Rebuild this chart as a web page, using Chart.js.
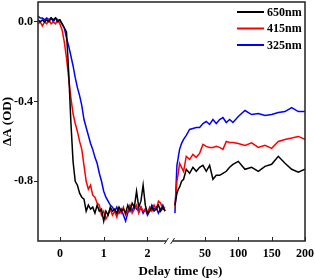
<!DOCTYPE html>
<html>
<head>
<meta charset="utf-8">
<script src="https://cdn.jsdelivr.net/npm/chart.js@4.4.1/dist/chart.umd.min.js"></script>
<style>
  html, body { margin: 0; padding: 0; background: #fff; }
</style>
</head>
<body>
<canvas id="canvas" width="315" height="280"></canvas>
<script>
// series
const seriesNames = ['650nm', '415nm', '325nm'];
const seriesColors = ['#000000', '#ff0000', '#0000ff'];

// early delay times (ps), before the axis break
const timeEarly = [-0.5, -0.45, -0.4, -0.35, -0.3, -0.25, -0.2, -0.15, -0.1, -0.05,
  0, 0.05, 0.1, 0.15, 0.2, 0.25, 0.3, 0.35, 0.4, 0.45,
  0.5, 0.55, 0.6, 0.65, 0.7, 0.75, 0.8, 0.85, 0.9, 0.95,
  1.0, 1.05, 1.1, 1.15, 1.2, 1.25, 1.3, 1.35, 1.4, 1.45,
  1.5, 1.55, 1.6, 1.65, 1.7, 1.75, 1.8, 1.85, 1.9, 1.95,
  2.0, 2.05, 2.1, 2.15, 2.2, 2.25, 2.3, 2.35, 2.4];

const early650 = [0.01, 0.0, 0.01, 0.0, 0.01, 0.0, 0.02, 0.01, 0.02, 0.0,
  0.01, -0.01, -0.03, -0.05, -0.25, -0.5, -0.7, -0.8, -0.82, -0.86,
  -0.88, -0.89, -0.95, -0.92, -0.94, -0.93, -0.96, -0.92, -0.95, -0.94,
  -1.0, -0.95, -0.97, -0.93, -0.95, -0.94, -0.96, -0.93, -0.95, -0.94,
  -0.96, -0.92, -0.95, -0.91, -0.93, -0.85, -0.93, -0.9, -0.82, -0.92,
  -0.96, -0.95, -0.93, -0.95, -0.94, -0.92, -0.95, -0.93, -0.95];

const early415 = [-0.01, 0.0, -0.02, 0.0, -0.01, 0.01, -0.01, 0.0, -0.01, 0.01,
  -0.01, -0.04, -0.1, -0.18, -0.28, -0.38, -0.46, -0.51, -0.55, -0.6,
  -0.64, -0.72, -0.8, -0.84, -0.82, -0.87, -0.88, -0.91, -0.92, -0.97,
  -0.95, -0.99, -0.97, -0.94, -0.97, -0.95, -0.98, -0.94, -0.96, -0.93,
  -0.97, -0.95, -0.92, -0.96, -0.94, -0.92, -0.96, -0.93, -0.95, -0.94,
  -0.96, -0.93, -0.95, -0.92, -0.94, -0.9, -0.91, -0.94, -0.93];

const early325 = [0.03, 0.02, 0.02, 0.01, 0.02, 0.01, 0.02, 0.0, 0.02, 0.01,
  0.01, -0.01, -0.03, -0.08, -0.12, -0.17, -0.22, -0.28, -0.33, -0.37,
  -0.42, -0.49, -0.53, -0.57, -0.61, -0.64, -0.68, -0.71, -0.76, -0.8,
  -0.85, -0.88, -0.9, -0.92, -0.93, -0.95, -0.93, -0.96, -0.94, -0.97,
  -1.0, -0.96, -0.93, -0.95, -0.92, -0.94, -0.95, -0.93, -0.96, -0.94,
  -0.97, -0.95, -0.92, -0.94, -0.93, -0.96, -0.94, -0.92, -0.95];

// late delay times (ps), after the axis break
const timeLate = [5, 8, 10, 12, 15, 18, 22, 27, 32, 37, 42, 47, 52, 57, 62, 67,
  72, 77, 82, 87, 92, 100, 110, 120, 130, 140, 150, 160, 170, 180, 190, 200];

const late650 = [-0.92, -0.86, -0.84, -0.83, -0.8, -0.79, -0.74, -0.76, -0.73, -0.75,
  -0.73, -0.72, -0.75, -0.72, -0.79, -0.77, -0.77, -0.76, -0.75, -0.73,
  -0.715, -0.7, -0.74, -0.73, -0.75, -0.725, -0.715, -0.675, -0.71, -0.74, -0.755, -0.74];

const late415 = [-0.93, -0.8, -0.76, -0.71, -0.73, -0.75, -0.675, -0.69, -0.665, -0.68,
  -0.66, -0.615, -0.625, -0.63, -0.63, -0.625, -0.63, -0.64, -0.6, -0.605,
  -0.605, -0.61, -0.62, -0.607, -0.63, -0.62, -0.635, -0.6, -0.59, -0.583, -0.575, -0.59];

const late325 = [-0.96, -0.72, -0.68, -0.64, -0.61, -0.59, -0.57, -0.54, -0.535, -0.53,
  -0.53, -0.51, -0.5, -0.515, -0.49, -0.51, -0.49, -0.48, -0.505, -0.49,
  -0.505, -0.475, -0.445, -0.465, -0.46, -0.47, -0.465, -0.455, -0.45, -0.43, -0.45, -0.45];

const earlyTicks = [0, 1, 2];
const lateTicks = [50, 100, 150, 200];
const yTicks = [0, -0.4, -0.8];
const yTickLabels = ['0.0', '-0.4', '-0.8'];
const xTitle = 'Delay time (ps)';

// broken axis: left part in ps, right part squeezed after the break
const breakAt = 2.5;
const lateZero = 2.55;
const lateScale = 3.046 / 200;
function lateToAxis(t) { return lateZero + t * lateScale; }

const earlySets = [early650, early415, early325];
const lateSets = [late650, late415, late325];

const datasets = seriesNames.map(function (name, k) {
  let pts = timeEarly.map((t, i) => ({ x: t, y: earlySets[k][i] }));
  pts.push({ x: breakAt + 0.02, y: null });
  pts = pts.concat(timeLate.map((t, i) => ({ x: lateToAxis(t), y: lateSets[k][i] })));
  return {
    label: name,
    data: pts,
    borderColor: seriesColors[k],
    backgroundColor: seriesColors[k],
    borderWidth: 1.5,
    pointRadius: 0,
    tension: 0,
    spanGaps: false
  };
});

const tickMap = {};
earlyTicks.forEach(t => { tickMap[t.toFixed(4)] = String(t); });
lateTicks.forEach(t => { tickMap[lateToAxis(t).toFixed(4)] = String(t); });

const serif = '"Liberation Serif", "Times New Roman", serif';
Chart.defaults.font.family = serif;
Chart.defaults.font.weight = 'bold';
Chart.defaults.font.size = 12;
Chart.defaults.color = '#000';

const framePlugin = {
  id: 'frame',
  afterDraw(chart) {
    const ctx = chart.ctx;
    const a = chart.chartArea;
    const xs = chart.scales.x;
    const gapL = xs.getPixelForValue(breakAt) - 3;
    const gapR = xs.getPixelForValue(lateZero) + 1;
    ctx.save();
    ctx.strokeStyle = '#222';
    ctx.lineWidth = 1.5;
    ctx.beginPath();
    ctx.moveTo(gapL, a.bottom);
    ctx.lineTo(a.left, a.bottom);
    ctx.lineTo(a.left, a.top);
    ctx.lineTo(a.right, a.top);
    ctx.lineTo(a.right, a.bottom);
    ctx.lineTo(gapR, a.bottom);
    ctx.stroke();
    // break marks
    ctx.lineWidth = 1;
    [gapL, gapR].forEach(x => {
      ctx.beginPath();
      ctx.moveTo(x - 2, a.bottom + 3);
      ctx.lineTo(x + 2, a.bottom - 3);
      ctx.stroke();
    });
    // inner x ticks
    xs.ticks.forEach(t => {
      const px = Math.round(xs.getPixelForValue(t.value)) + 0.5;
      ctx.beginPath();
      ctx.moveTo(px, a.bottom);
      ctx.lineTo(px, a.bottom - 4);
      ctx.stroke();
    });
    // x title, sits a bit right of centre as in the original
    ctx.fillStyle = '#000';
    ctx.font = 'bold 13px ' + serif;
    ctx.textAlign = 'center';
    ctx.textBaseline = 'middle';
    ctx.fillText(xTitle, (a.left + a.right) / 2 + 9, a.bottom + 31);
    // legend, top right inside the plot
    ctx.font = 'bold 12px ' + serif;
    ctx.textAlign = 'left';
    chart.data.datasets.forEach((ds, i) => {
      const y = a.top + 10 + i * 16.5;
      ctx.strokeStyle = ds.borderColor;
      ctx.lineWidth = 2;
      ctx.beginPath();
      ctx.moveTo(a.right - 68, y);
      ctx.lineTo(a.right - 41, y);
      ctx.stroke();
      ctx.fillText(ds.label, a.right - 38, y + 0.5);
    });
    ctx.restore();
  }
};

const ctx = document.getElementById('canvas').getContext('2d');
const myChart = new Chart(ctx, {
  type: 'line',
  data: { datasets: datasets },
  options: {
    responsive: false,
    animation: false,
    devicePixelRatio: 1,
    layout: { padding: { top: 2, right: 10, left: 0, bottom: 0 } },
    plugins: {
      legend: { display: false },
      tooltip: { enabled: false }
    },
    scales: {
      x: {
        type: 'linear',
        min: -0.5,
        max: lateToAxis(200),
        afterFit(scale) {
          scale.height = 39;
          scale.paddingLeft = 0;
          scale.paddingRight = 0;
        },
        afterBuildTicks(scale) {
          scale.ticks = earlyTicks.map(v => ({ value: v }))
            .concat(lateTicks.map(v => ({ value: lateToAxis(v) })));
        },
        ticks: {
          autoSkip: false,
          maxRotation: 0,
          padding: 6,
          callback: function (v) { return tickMap[Number(v).toFixed(4)]; }
        },
        grid: { display: false, drawTicks: false },
        border: { display: false },
        title: { display: false }
      },
      y: {
        min: -1.1,
        max: 0.1,
        afterFit(scale) {
          scale.width = 38;
          scale.paddingTop = 0;
          scale.paddingBottom = 0;
        },
        afterBuildTicks(scale) {
          scale.ticks = yTicks.map(v => ({ value: v }));
        },
        ticks: {
          padding: 1,
          callback: function (v) {
            const i = yTicks.findIndex(t => Math.abs(t - v) < 1e-6);
            return i >= 0 ? yTickLabels[i] : '';
          }
        },
        grid: { drawOnChartArea: false, tickLength: 4, color: '#222', lineWidth: 1 },
        border: { display: false },
        title: {
          display: true,
          text: 'ΔA (OD)',
          font: { size: 13, weight: 'bold' },
          padding: { top: 0, bottom: 0 }
        }
      }
    }
  },
  plugins: [framePlugin]
});
</script>
</body>
</html>
